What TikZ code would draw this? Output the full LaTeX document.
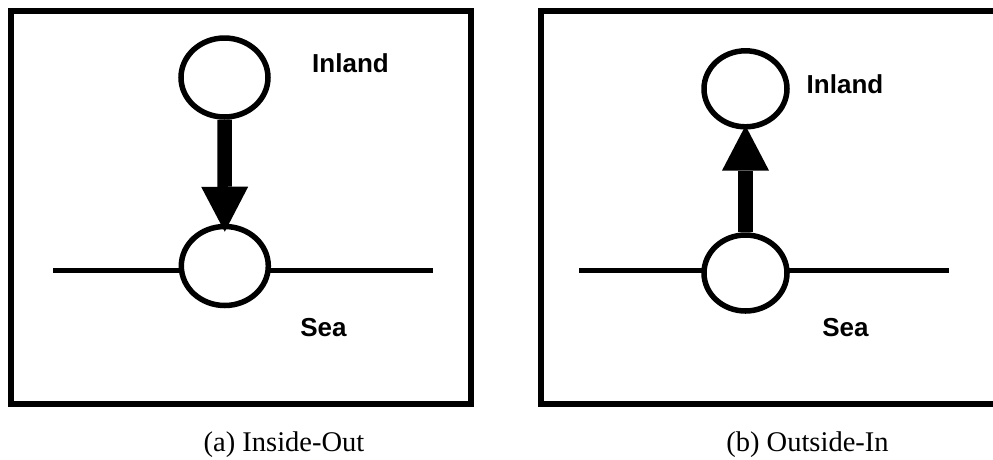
\documentclass[tikz,border=0pt]{standalone}
\usepackage{fontspec}
\setmainfont{Liberation Serif}
\newfontfamily\labelfont{Liberation Sans}
\usetikzlibrary{arrows.meta,shapes.geometric}

\tikzset{
  frame/.style={line width=6pt},
  shore/.style={line width=5pt},
  siteA/.style={ellipse, draw, line width=5.5pt, fill=white, inner sep=0pt,
                minimum width=87pt, minimum height=79pt},
  siteB/.style={ellipse, draw, line width=5.5pt, fill=white, inner sep=0pt,
                minimum width=83pt, minimum height=76pt},
  flow/.style={line width=14.5pt,
               -{Triangle[width=47pt,length=45pt,line width=0pt]}},
  place/.style={font=\labelfont\bfseries\fontsize{26}{30}\selectfont, inner sep=0pt},
  caption/.style={font=\fontsize{28.5}{32}\selectfont, inner sep=0pt}
}

\begin{document}
\begin{tikzpicture}[x=1pt,y=-1pt]
  \useasboundingbox (0,0) rectangle (993,459);
  \clip (0,0) rectangle (993,459);

  % (a) Inside-Out
  \draw[frame] (11,11.3) rectangle (470.5,404);
  \coordinate (aL) at (53,270);
  \coordinate (aR) at (433,270);
  \draw[shore] (aL) -- (aR);
  \node[siteA] (aTop) at (224.5,77.5) {};
  \node[siteA] (aBot) at (224.8,266) {};
  \draw[flow] (aTop.south) -- ([yshift=-8pt]aBot.north);
  \node[place] (aInland) at (350.5,63) {Inland};
  \node[place] (aSea) at (323.5,328) {Sea};
  \node[caption] (aCap) at (284,445) {(a) Inside-Out};

  % (b) Outside-In
  \draw[frame] (540.5,11.3) rectangle (1010,404);
  \coordinate (bL) at (579,270);
  \coordinate (bR) at (949,270);
  \draw[shore] (bL) -- (bR);
  \node[siteB] (bTop) at (745.5,88.8) {};
  \node[siteB] (bBot) at (745.5,273) {};
  \draw[flow] (bBot.north) -- ([yshift=4pt]bTop.south);
  \node[place] (bInland) at (845,84) {Inland};
  \node[place] (bSea) at (845.5,328) {Sea};
  \node[caption] (bCap) at (807.5,445) {(b) Outside-In};
\end{tikzpicture}
\end{document}
